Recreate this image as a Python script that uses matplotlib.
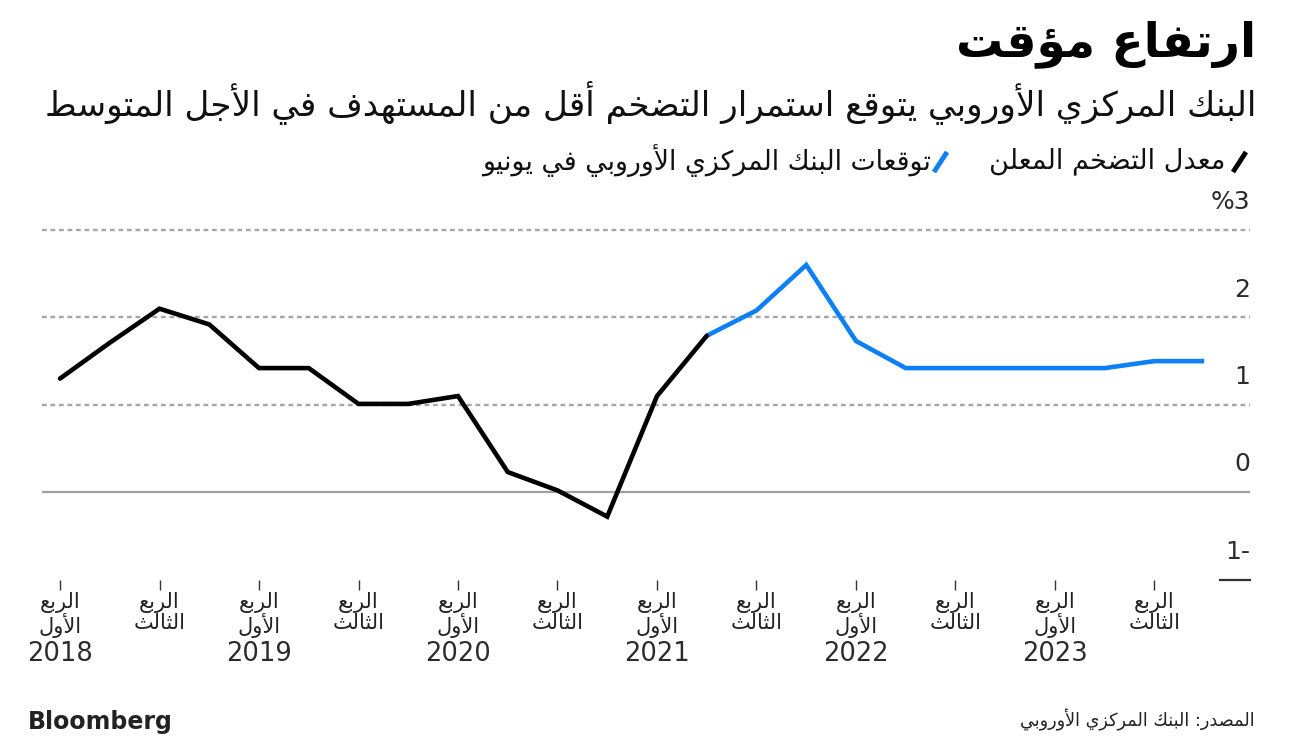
import matplotlib
matplotlib.use("Agg")
import matplotlib.pyplot as plt
from matplotlib.lines import Line2D

# ---------------- data ----------------
years = [2018, 2019, 2020, 2021, 2022, 2023]
quarter_q1 = "الربع\nالأول"
quarter_q3 = "الربع\nالثالث"
actual = [1.3, 1.71, 2.1, 1.92, 1.42, 1.42, 1.01, 1.01, 1.1, 0.23, 0.02, -0.28, 1.1, 1.79]
projection = [1.79, 2.08, 2.6, 1.73, 1.42, 1.42, 1.42, 1.42, 1.42, 1.5, 1.5]
yticks = [-1, 0, 1, 2, 3]
ytick_labels = ["1-", "0", "1", "2", "%3"]

title = "ارتفاع مؤقت"
subtitle = "البنك المركزي الأوروبي يتوقع استمرار التضخم أقل من المستهدف في الأجل المتوسط"
legend_actual = "معدل التضخم المعلن"
legend_proj = "توقعات البنك المركزي الأوروبي في يونيو"
source = "المصدر: البنك المركزي الأوروبي"

# ---------------- minimal Arabic shaper ----------------
RIGHT = {'آ': 0xFE81, 'أ': 0xFE83, 'ؤ': 0xFE85, 'إ': 0xFE87, 'ا': 0xFE8D, 'ة': 0xFE93,
         'د': 0xFEA9, 'ذ': 0xFEAB, 'ر': 0xFEAD, 'ز': 0xFEAF, 'و': 0xFEED, 'ى': 0xFEEF}
DUAL = {'ئ': 0xFE89, 'ب': 0xFE8F, 'ت': 0xFE95, 'ث': 0xFE99, 'ج': 0xFE9D, 'ح': 0xFEA1,
        'خ': 0xFEA5, 'س': 0xFEB1, 'ش': 0xFEB5, 'ص': 0xFEB9, 'ض': 0xFEBD, 'ط': 0xFEC1,
        'ظ': 0xFEC5, 'ع': 0xFEC9, 'غ': 0xFECD, 'ف': 0xFED1, 'ق': 0xFED5, 'ك': 0xFED9,
        'ل': 0xFEDD, 'م': 0xFEE1, 'ن': 0xFEE5, 'ه': 0xFEE9, 'ي': 0xFEF1}
LAMALEF = {'آ': 0xFEF5, 'أ': 0xFEF7, 'إ': 0xFEF9, 'ا': 0xFEFB}


def shape_line(s):
    toks = []
    i = 0
    while i < len(s):
        c = s[i]
        if c == 'ل' and i + 1 < len(s) and s[i + 1] in LAMALEF:
            toks.append(('LA', s[i + 1]))
            i += 2
        else:
            toks.append(('C', c))
            i += 1

    def jn(t):
        return t[0] == 'C' and t[1] in DUAL

    def jp(t):
        return t[0] == 'LA' or t[1] in DUAL or t[1] in RIGHT

    res = []
    for k, t in enumerate(toks):
        prev = toks[k - 1] if k > 0 else None
        nxt = toks[k + 1] if k + 1 < len(toks) else None
        cp = prev is not None and jn(prev) and jp(t)
        cn = nxt is not None and jn(t) and jp(nxt)
        kind, c = t
        if kind == 'LA':
            res.append(chr(LAMALEF[c] + (1 if cp else 0)))
        elif c in DUAL:
            b = DUAL[c]
            res.append(chr(b + 3 if (cp and cn) else b + 1 if cp else b + 2 if cn else b))
        elif c in RIGHT:
            res.append(chr(RIGHT[c] + (1 if cp else 0)))
        elif c == 'ء':
            res.append('\uFE80')
        else:
            res.append(c)
    return ''.join(res[::-1])


def ar(s):
    return "\n".join(shape_line(line) for line in s.split("\n"))


# ---------------- figure ----------------
W, H = 1297, 748
plt.rcParams['font.family'] = ['DejaVu Sans']
fig = plt.figure(figsize=(W / 100, H / 100), dpi=100)
fig.patch.set_facecolor('white')


def fx(px):
    return px / W


def fy(py):
    return 1 - py / H


ax_top, ax_bot = 212.6, 580.2
ax = fig.add_axes([fx(42), fy(ax_bot), fx(1250) - fx(42), (ax_bot - ax_top) / H])
ax.set_facecolor('none')
n_q = len(years) * 4
ax.set_xlim(-0.362, 23.92)
ax.set_ylim(-1.008, 3.2)
for sp in ax.spines.values():
    sp.set_visible(False)

# gridlines
for v in [1, 2, 3]:
    ax.axhline(v, color='#a6a6a6', lw=1.7, linestyle=(0, (2.0, 1.6)), zorder=1)
ax.axhline(0, color='#a0a0a0', lw=1.6, zorder=1)
ax.axhline(-1, xmin=0.975, xmax=1.0, color='#333333', lw=1.6, zorder=1, clip_on=False)

# y labels
for v, lab in zip(yticks, ytick_labels):
    ax.annotate(lab, xy=(1.0, v), xycoords=('axes fraction', 'data'),
                xytext=(0, 20), textcoords='offset points', ha='right', va='center',
                fontsize=18, color='#2b2b2b')
ax.set_yticks([])

# lines
x_act = list(range(len(actual)))
x_proj = list(range(len(actual) - 1, len(actual) - 1 + len(projection)))
ax.plot(x_proj, projection, color='#0d80f6', lw=3.3, solid_joinstyle='miter',
        solid_capstyle='butt', zorder=3)
ax.plot(x_act, actual, color='#000000', lw=3.3, solid_joinstyle='miter',
        solid_capstyle='round', zorder=4)

# x ticks
xt = list(range(0, n_q, 2))
xl = [ar(quarter_q1) if (i % 4 == 0) else ar(quarter_q3) for i in xt]
ax.set_xticks(xt)
ax.set_xticklabels(xl, fontsize=15, color='#222222', linespacing=1.0)
ax.tick_params(axis='x', length=7.5, width=1, color='#333333', pad=1.0)

for k, yr in enumerate(years):
    ax.annotate(str(yr), xy=(4 * k, 0), xycoords=('data', 'axes fraction'),
                xytext=(0, -53), textcoords='offset points', ha='center', va='center',
                fontsize=18.5, color='#2b2b2b')

# ---------------- texts ----------------
renderer = fig.canvas.get_renderer()


def fit(t, target_w):
    w = t.get_window_extent(renderer).width
    t.set_fontsize(t.get_fontsize() * target_w / w)


t1 = fig.text(fx(1256), fy(44), ar(title), ha='right', va='center', fontsize=34,
              fontweight='bold', color='#000000')
fit(t1, 300)
t2 = fig.text(fx(1256), fy(102), ar(subtitle), ha='right', va='center', fontsize=22,
              color='#111111')
fit(t2, 1216)

# legend
fig.add_artist(Line2D([fx(1233), fx(1246)], [fy(172), fy(152)], color='#000000', lw=3.5,
                      solid_capstyle='butt'))
l1 = fig.text(fx(1225), fy(161), ar(legend_actual), ha='right', va='center', fontsize=16,
              color='#111111')
fit(l1, 236)
fig.add_artist(Line2D([fx(934), fx(947)], [fy(172), fy(152)], color='#0d80f6', lw=3.5,
                      solid_capstyle='butt'))
l2 = fig.text(fx(931), fy(161), ar(legend_proj), ha='right', va='center', fontsize=16,
              color='#111111')
fit(l2, 450)

# footer
fig.text(fx(28), fy(722), "Bloomberg", ha='left', va='center', fontsize=17,
         fontweight='bold', color='#222222')
s1 = fig.text(fx(1255), fy(720), ar(source), ha='right', va='center', fontsize=12.5,
              color='#222222')
fit(s1, 235)

fig.savefig('out.png', dpi=100, facecolor='white')
